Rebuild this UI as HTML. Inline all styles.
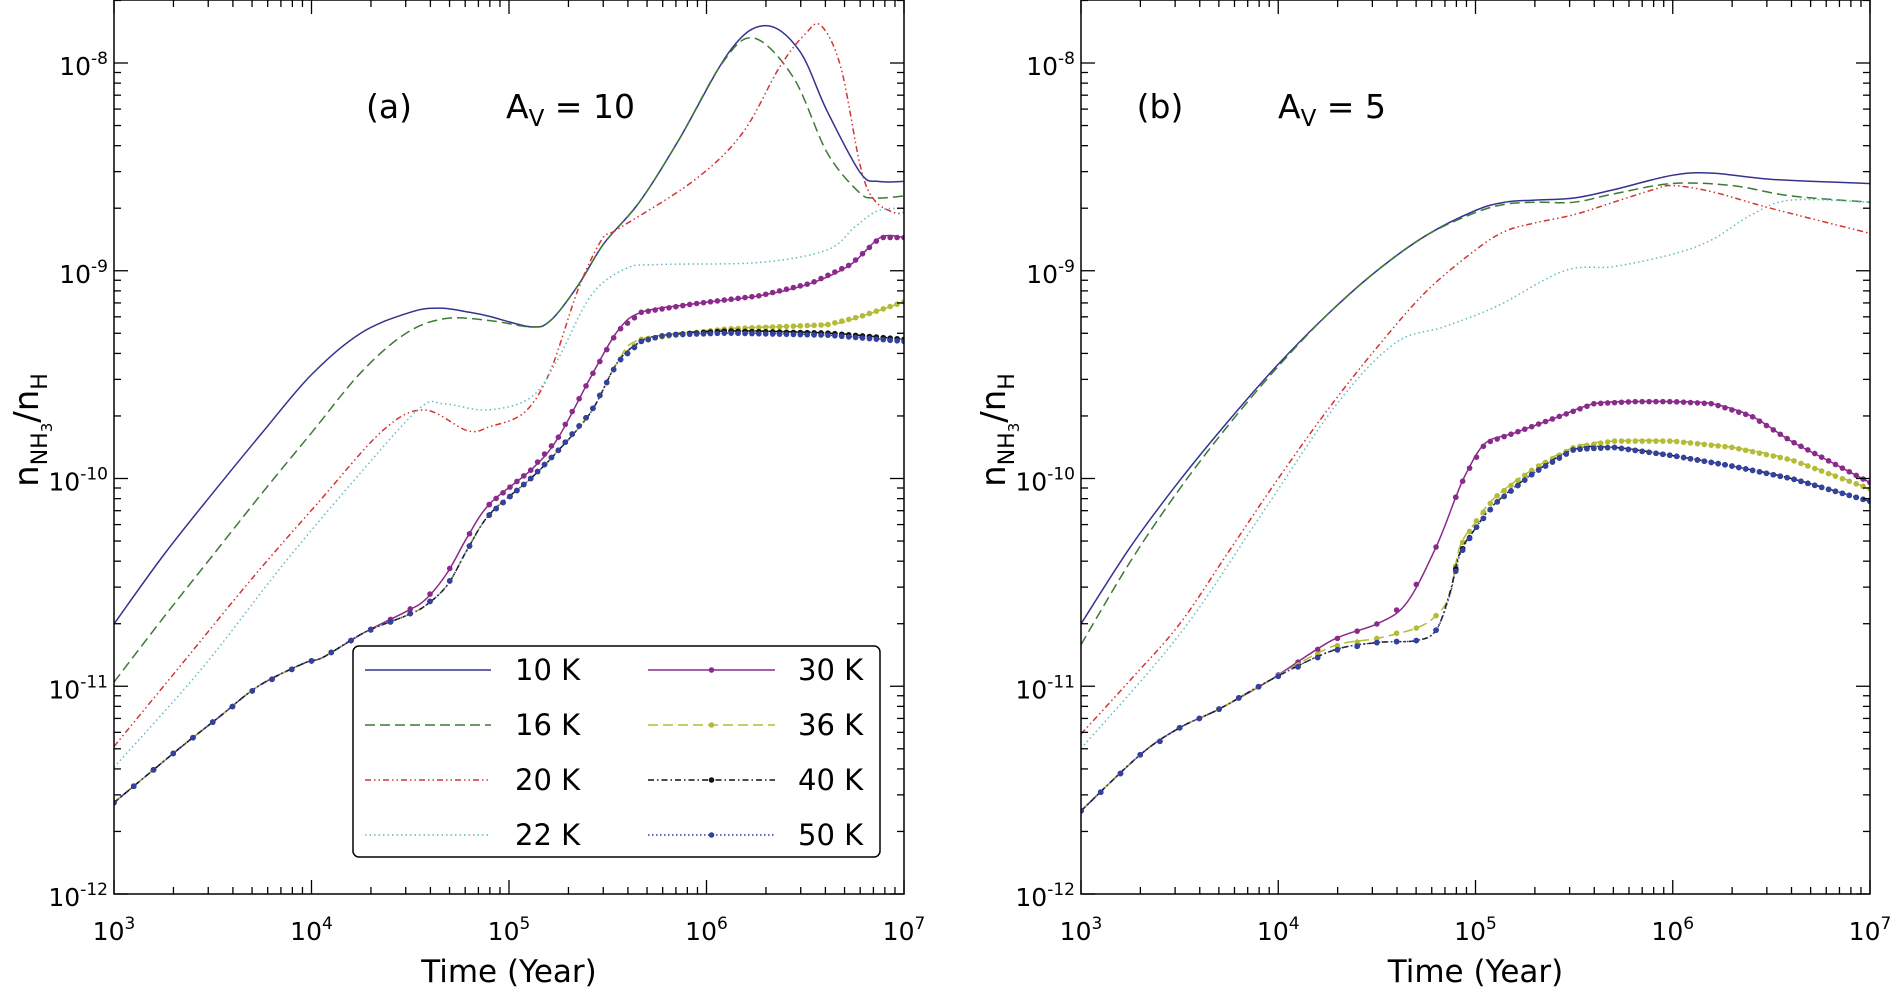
<!DOCTYPE html>
<html><head><meta charset="utf-8"><style>
html,body{margin:0;padding:0;background:#fff;}
svg{display:block;font-family:"DejaVu Sans","Liberation Sans",sans-serif;}
</style></head><body>
<svg id="chart" width="1890" height="988" viewBox="0 0 1890 988" xmlns="http://www.w3.org/2000/svg"></svg>
<script>
// ---------- DATA (log10 time, log10 abundance) ----------
const xTickLabels = ["3","4","5","6","7"];
const yTickLabels = ["-12","-11","-10","-9","-8"];
const seriesNames = ["10 K","16 K","20 K","22 K","30 K","36 K","40 K","50 K"];

// Panel (a) Av = 10
const a10x = [3.0,3.25,3.5,3.75,4.0,4.25,4.5,4.65,4.8,4.904,5.11,5.21,5.35,5.48,5.66,5.86,6.12,6.30,6.47,6.61,6.78,6.87,7.0];
const a10y = [-10.70,-10.37,-10.07,-9.78,-9.50,-9.30,-9.20,-9.18,-9.20,-9.22,-9.27,-9.24,-9.07,-8.87,-8.67,-8.37,-7.94,-7.82,-7.94,-8.23,-8.53,-8.57,-8.57];
const a16x = [3.0,3.25,3.5,3.75,4.0,4.25,4.48,4.68,4.904,5.11,5.21,5.35,5.48,5.66,5.86,6.08,6.24,6.44,6.61,6.77,6.85,7.0];
const a16y = [-10.98,-10.67,-10.37,-10.07,-9.78,-9.49,-9.30,-9.23,-9.24,-9.27,-9.24,-9.07,-8.87,-8.67,-8.37,-8.0,-7.88,-8.07,-8.43,-8.62,-8.65,-8.64];
const a20x = [3.0,3.32,3.70,4.03,4.36,4.57,4.79,4.904,5.08,5.21,5.35,5.47,5.55,5.93,6.18,6.37,6.50,6.58,6.68,6.78,6.85,6.95,7.0];
const a20y = [-11.29,-10.92,-10.48,-10.12,-9.77,-9.67,-9.77,-9.75,-9.68,-9.48,-9.09,-8.85,-8.80,-8.57,-8.34,-8.02,-7.86,-7.82,-8.02,-8.50,-8.66,-8.72,-8.72];
const a22x = [3.0,3.44,3.86,4.26,4.55,4.67,4.89,5.11,5.245,5.415,5.59,5.76,6.27,6.61,6.75,6.87,7.0];
const a22y = [-11.39,-10.92,-10.41,-9.96,-9.66,-9.64,-9.67,-9.61,-9.43,-9.12,-8.99,-8.97,-8.96,-8.90,-8.79,-8.71,-8.70];
const a30x = [3.0,3.33,3.53,3.73,3.96,4.06,4.27,4.48,4.58,4.69,4.79,4.904,5.11,5.245,5.415,5.55,5.67,5.93,6.27,6.53,6.73,6.88,7.0];
const a30y = [-11.56,-11.30,-11.15,-11.0,-10.89,-10.86,-10.74,-10.64,-10.58,-10.45,-10.28,-10.12,-9.96,-9.81,-9.51,-9.29,-9.20,-9.16,-9.12,-9.06,-8.97,-8.84,-8.84];
const a36x = [3.0,3.33,3.53,3.73,3.96,4.06,4.27,4.48,4.58,4.69,4.79,4.904,5.11,5.245,5.415,5.55,5.67,6.10,6.61,6.78,7.0];
const a36y = [-11.56,-11.30,-11.15,-11.0,-10.89,-10.86,-10.74,-10.66,-10.61,-10.51,-10.34,-10.17,-10.0,-9.87,-9.68,-9.44,-9.33,-9.28,-9.26,-9.22,-9.15];
const a40x = [3.0,3.33,3.53,3.73,3.96,4.06,4.27,4.48,4.58,4.69,4.79,4.904,5.11,5.245,5.415,5.55,5.67,5.79,6.10,6.61,7.0];
const a40y = [-11.56,-11.30,-11.15,-11.0,-10.89,-10.86,-10.74,-10.66,-10.61,-10.51,-10.34,-10.17,-10.0,-9.87,-9.68,-9.44,-9.34,-9.31,-9.29,-9.30,-9.33];
const a50x = [3.0,3.33,3.53,3.73,3.96,4.06,4.27,4.48,4.58,4.69,4.79,4.904,5.11,5.245,5.415,5.55,5.67,5.79,6.10,6.61,7.0];
const a50y = [-11.56,-11.30,-11.15,-11.0,-10.89,-10.86,-10.74,-10.66,-10.61,-10.51,-10.34,-10.17,-10.0,-9.87,-9.68,-9.44,-9.34,-9.31,-9.30,-9.31,-9.34];

// Panel (b) Av = 5
const b10x = [3.0,3.25,3.5,3.75,4.0,4.25,4.5,4.75,5.0,5.15,5.3,5.5,5.7,6.0,6.2,6.5,7.0];
const b10y = [-10.70,-10.33,-10.01,-9.72,-9.45,-9.21,-9.00,-8.83,-8.71,-8.67,-8.66,-8.65,-8.61,-8.54,-8.53,-8.56,-8.58];
const b16x = [3.0,3.25,3.5,3.75,4.0,4.25,4.5,4.75,5.0,5.15,5.3,5.5,5.7,6.0,6.3,6.6,7.0];
const b16y = [-10.80,-10.40,-10.05,-9.74,-9.46,-9.21,-9.00,-8.83,-8.72,-8.68,-8.67,-8.67,-8.63,-8.58,-8.59,-8.64,-8.67];
const b20x = [3.0,3.25,3.5,3.75,4.0,4.25,4.5,4.75,5.0,5.15,5.3,5.5,5.7,5.9,6.0,6.2,6.5,7.0];
const b20y = [-11.23,-10.97,-10.70,-10.35,-10.00,-9.67,-9.37,-9.10,-8.90,-8.81,-8.77,-8.73,-8.67,-8.61,-8.59,-8.62,-8.70,-8.82];
const b22x = [3.0,3.5,3.91,4.29,4.59,4.84,5.11,5.45,5.7,6.0,6.2,6.4,6.6,7.0];
const b22y = [-11.30,-10.75,-10.18,-9.65,-9.35,-9.27,-9.17,-9.0,-8.98,-8.92,-8.85,-8.73,-8.66,-8.67];
const b30x = [3.0,3.3,3.5,3.7,3.96,4.27,4.5,4.65,4.8,4.9,4.95,5.05,5.2,5.4,5.6,5.8,6.0,6.2,6.4,6.6,6.8,7.0];
const b30y = [-11.60,-11.33,-11.20,-11.11,-10.97,-10.78,-10.70,-10.60,-10.33,-10.09,-9.98,-9.83,-9.78,-9.71,-9.64,-9.63,-9.63,-9.64,-9.70,-9.82,-9.92,-10.02];
const b36x = [3.0,3.3,3.5,3.7,3.96,4.27,4.5,4.7,4.8,4.87,4.92,5.0,5.1,5.3,5.5,5.7,6.0,6.3,6.6,7.0];
const b36y = [-11.60,-11.33,-11.20,-11.11,-10.97,-10.81,-10.77,-10.72,-10.66,-10.56,-10.33,-10.21,-10.09,-9.95,-9.85,-9.82,-9.82,-9.85,-9.91,-10.05];
const b40x = [3.0,3.3,3.5,3.7,3.96,4.27,4.5,4.7,4.8,4.87,4.92,5.0,5.1,5.3,5.5,5.7,6.0,6.3,6.6,7.0];
const b40y = [-11.60,-11.33,-11.20,-11.11,-10.97,-10.83,-10.79,-10.78,-10.73,-10.55,-10.36,-10.24,-10.12,-9.97,-9.86,-9.85,-9.89,-9.94,-10.0,-10.11];
const b50x = [3.0,3.3,3.5,3.7,3.96,4.27,4.5,4.7,4.8,4.87,4.92,5.0,5.1,5.3,5.5,5.7,6.0,6.3,6.6,7.0];
const b50y = [-11.60,-11.33,-11.20,-11.11,-10.97,-10.83,-10.79,-10.78,-10.73,-10.56,-10.37,-10.24,-10.12,-9.97,-9.86,-9.85,-9.89,-9.94,-10.0,-10.11];

// ---------- STYLE ----------
const styles = [
 {c:"#33338f",d:null,m:false},
 {c:"#3d7a35",d:"10,5",m:false},
 {c:"#d23535",d:"6,3,1.5,3,1.5,3",m:false},
 {c:"#5fbcc0",d:"1.5,3",m:false},
 {c:"#8a2a8a",d:null,m:true},
 {c:"#b4bb34",d:"10,5",m:true},
 {c:"#111111",d:"6,3,1.5,3",m:true},
 {c:"#3342a0",d:"1.5,2.5",m:true}
];
const NS="http://www.w3.org/2000/svg";
const svg=document.getElementById('chart');
function mk(tag,attrs,parent){const e=document.createElementNS(NS,tag);for(const k in attrs)e.setAttribute(k,attrs[k]);(parent||svg).appendChild(e);return e;}

const TOP=0,BOT=894;
const yDec=(BOT-63)/4;
const yMaxLog=-8+63/yDec;

function interp(xs,ys,x){
 if(x<=xs[0])return ys[0];
 for(let i=0;i<xs.length-1;i++){if(x<=xs[i+1]){const t=(x-xs[i])/(xs[i+1]-xs[i]);return ys[i]+t*(ys[i+1]-ys[i]);}}
 return ys[ys.length-1];
}
function smoothPath(pts){
 let d="M"+pts[0][0].toFixed(2)+","+pts[0][1].toFixed(2);
 for(let i=0;i<pts.length-1;i++){
  const p0=pts[Math.max(0,i-1)],p1=pts[i],p2=pts[i+1],p3=pts[Math.min(pts.length-1,i+2)];
  const c1x=p1[0]+(p2[0]-p0[0])/6,c1y=p1[1]+(p2[1]-p0[1])/6;
  const c2x=p2[0]-(p3[0]-p1[0])/6,c2y=p2[1]-(p3[1]-p1[1])/6;
  d+=" C"+c1x.toFixed(2)+","+c1y.toFixed(2)+" "+c2x.toFixed(2)+","+c2y.toFixed(2)+" "+p2[0].toFixed(2)+","+p2[1].toFixed(2);
 }
 return d;
}

function panel(id,L,R,series,label,avText,labX,avX){
 const g=mk('g',{});
 
 
 const xs=lx=>L+(lx-3)/4*(R-L);
 const ys=ly=>BOT-(ly+12)*yDec;
 const clipId='clip-'+id;
 const cp=mk('clipPath',{id:clipId},g);mk('rect',{x:L,y:TOP,width:R-L,height:BOT-TOP},cp);
 const plot=mk('g',{'clip-path':'url(#'+clipId+')'},g);
 series.forEach((s,i)=>{
  const st=styles[i];
  const pts=s[0].map((lx,k)=>[xs(lx),ys(s[1][k])]);
  const p=mk('path',{d:smoothPath(pts),fill:'none',stroke:st.c,'stroke-width':1.5},plot);
  if(st.d)p.setAttribute('stroke-dasharray',st.d);
  
  
  if(st.m){
   const mg=mk('g',{fill:st.c},plot);
   
   
   const mx=[];for(let v=3;v<4.9;v+=0.1)mx.push(v);for(let v=4.9;v<=7.0001;v+=0.035)mx.push(v);
   mx.forEach(v=>{mk('circle',{cx:xs(v),cy:ys(interp(s[0],s[1],v)),r:2.8},mg);});
  }
 });
 const fr=mk('rect',{x:L,y:TOP,width:R-L,height:BOT-TOP,fill:'none',stroke:'#000','stroke-width':1.5},g);
 
 const tk=mk('g',{stroke:'#000','stroke-width':1.3},g);
 
 for(let dcd=3;dcd<=7;dcd++){
  for(let m=1;m<=9;m++){
   const lx=dcd+Math.log10(m);if(lx>7)break;
   const X=xs(lx),len=m===1?14:7;
   mk('line',{x1:X,y1:BOT,x2:X,y2:BOT-len},tk);mk('line',{x1:X,y1:TOP,x2:X,y2:TOP+len},tk);
  }
 }
 for(let dcd=-12;dcd<=-7;dcd++){
  for(let m=1;m<=9;m++){
   const ly=dcd+Math.log10(m);if(ly>yMaxLog)break;
   const Y=ys(ly),len=m===1?14:7;
   mk('line',{x1:L,y1:Y,x2:L+len,y2:Y},tk);mk('line',{x1:R,y1:Y,x2:R-len,y2:Y},tk);
  }
 }
 xTickLabels.forEach((t,i)=>{
  const tx=mk('text',{x:xs(3+i),y:940,'text-anchor':'middle','font-size':25,fill:'#000'},g);
  
  tx.innerHTML='10<tspan dy="-11" font-size="17">'+t+'</tspan>';
 });
 yTickLabels.forEach((t,i)=>{
  const tx=mk('text',{x:L-6,y:ys(-12+i)+12,'text-anchor':'end','font-size':25,fill:'#000'},g);
  
  tx.innerHTML='10<tspan dy="-11" font-size="17">'+t+'</tspan>';
 });
 const xt=mk('text',{x:(L+R)/2,y:982,'text-anchor':'middle','font-size':31,fill:'#000'},g);
 
 xt.textContent='Time (Year)';
 const cx=L-76,cy=430;
 const yt=mk('text',{x:cx,y:cy,'text-anchor':'middle','font-size':34,fill:'#000',transform:'rotate(-90 '+cx+' '+cy+')'},g);
 
 yt.innerHTML='n<tspan dy="9" font-size="22">NH</tspan><tspan dy="5" font-size="15">3</tspan><tspan dy="-14">/n</tspan><tspan dy="9" font-size="22">H</tspan>';
 const pl=mk('text',{x:labX,y:118,'text-anchor':'middle','font-size':33,fill:'#000'},g);
 
 pl.textContent=label;
 const av=mk('text',{x:avX,y:118,'font-size':33,fill:'#000'},g);
 
 av.innerHTML='A<tspan dy="8" font-size="23">V</tspan><tspan dy="-8"> = '+avText+'</tspan>';
 return {xs,ys};
}

panel('a',114,904,[[a10x,a10y],[a16x,a16y],[a20x,a20y],[a22x,a22y],[a30x,a30y],[a36x,a36y],[a40x,a40y],[a50x,a50y]],'(a)','10',389,506);
panel('b',1081,1870,[[b10x,b10y],[b16x,b16y],[b20x,b20y],[b22x,b22y],[b30x,b30y],[b36x,b36y],[b40x,b40y],[b50x,b50y]],'(b)','5',1160,1278);

const lg=mk('g',{});

mk('rect',{x:353,y:646,width:527,height:211,rx:6,fill:'#fff',stroke:'#000','stroke-width':1.5},lg);
const rowsY=[670,725,780,835];
seriesNames.forEach((n,i)=>{
 const col=Math.floor(i/4),row=i%4;
 const x0=col?648:365,x1=col?775:491,tx=col?798:515;
 const y=rowsY[row],st=styles[i];
 const e=mk('g',{},lg);
 
 
 const ln=mk('line',{x1:x0,y1:y,x2:x1,y2:y,stroke:st.c,'stroke-width':1.5},e);
 if(st.d)ln.setAttribute('stroke-dasharray',st.d);
 if(st.m)mk('circle',{cx:(x0+x1)/2,cy:y,r:2.8,fill:st.c},e);
 const t=mk('text',{x:tx,y:y+10,'font-size':29,fill:'#000'},e);
 t.textContent=n;
});
</script>
</body></html>
